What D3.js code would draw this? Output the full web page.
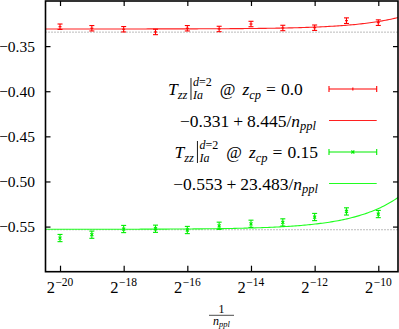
<!DOCTYPE html>
<html><head><meta charset="utf-8">
<script src="https://cdn.jsdelivr.net/npm/d3@7"></script>
<style>
html,body{margin:0;padding:0;background:#fff;}
svg{display:block;}
</style></head>
<body>
<svg id="c" width="399" height="329"></svg>
<script>
// ---- data ----
const xExp = [-20,-19,-18,-17,-16,-15,-14,-13,-12,-11,-10];          // 1/n_ppl = 2^xExp
const redVal = [-0.3285,-0.3302,-0.3313,-0.3343,-0.3302,-0.3310,-0.3255,-0.3299,-0.3296,-0.3218,-0.3240];
const redErr = [0.0030,0.0030,0.0030,0.0030,0.0030,0.0030,0.0030,0.0030,0.0030,0.0031,0.0031];
const greenVal = [-0.5627,-0.5590,-0.5527,-0.5524,-0.5538,-0.5491,-0.5469,-0.5454,-0.5394,-0.5332,-0.5361];
const greenErr = [0.0040,0.0040,0.0040,0.0040,0.0040,0.0040,0.0040,0.0040,0.0040,0.0040,0.0040];
const redFit = [-0.331, 8.445];      // a + b/n_ppl
const greenFit = [-0.553, 23.483];
const refLines = [-0.3345, -0.5535];
const xTickExp = [-20,-18,-16,-14,-12,-10];
const yTicks = [-0.35,-0.40,-0.45,-0.50,-0.55];
const yTickLabels = ["\u22120.35","\u22120.40","\u22120.45","\u22120.50","\u22120.55"];

const FONT = '"Liberation Serif"';
const svg = d3.select("#c");
const L = 45.5, R = 398, T = 1, B = 271.7;
const x = d3.scaleLog().base(2).domain([Math.pow(2,-20.456), Math.pow(2,-9.381)]).range([L,R]);
const y = d3.scaleLinear().domain([-0.60,-0.30]).range([B,T]);

// reference dotted lines
svg.append("g").selectAll("line").data(refLines).join("line")
  .attr("x1",L).attr("x2",R).attr("y1",d=>y(d)).attr("y2",d=>y(d))
  .attr("stroke","#777").attr("stroke-width",1).attr("stroke-dasharray","1,2");

// fit curves
const samples = d3.range(0,201).map(i=>Math.pow(2, -20.456 + (i/200)*(20.456-9.381)));
function fitLine(c, col){
  svg.append("path").datum(samples)
    .attr("d", d3.line().x(d=>x(d)).y(d=>y(c[0]+c[1]*d)))
    .attr("fill","none").attr("stroke",col).attr("stroke-width",1.1);
}
fitLine(redFit,"#ff2020");
fitLine(greenFit,"#20ff20");

// error bars
function errBars(vals, errs, col, kind){
  const g = svg.append("g").attr("stroke",col).attr("stroke-width",1.1).attr("fill","none");
  const data = xExp.map((e,i)=>({x:Math.pow(2,e), v:vals[i], e:errs[i]}));
  const cw = 2.5;
  data.forEach(d=>{
    const px = x(d.x), y0 = y(d.v-d.e), y1 = y(d.v+d.e), py = y(d.v);
    g.append("line").attr("x1",px).attr("x2",px).attr("y1",y0).attr("y2",y1);
    g.append("line").attr("x1",px-cw).attr("x2",px+cw).attr("y1",y0).attr("y2",y0);
    g.append("line").attr("x1",px-cw).attr("x2",px+cw).attr("y1",y1).attr("y2",y1);
    if(kind==="plus"){
      g.append("line").attr("x1",px-1.5).attr("x2",px+1.5).attr("y1",py).attr("y2",py);
    } else {
      g.append("line").attr("x1",px-1.5).attr("x2",px+1.5).attr("y1",py-1.5).attr("y2",py+1.5);
      g.append("line").attr("x1",px-1.5).attr("x2",px+1.5).attr("y1",py+1.5).attr("y2",py-1.5);
    }
  });
}
errBars(redVal, redErr, "#ff0000", "plus");
errBars(greenVal, greenErr, "#00ee00", "x");

// axes
const xb = svg.append("g").attr("transform",`translate(0,${B})`)
  .call(d3.axisBottom(x).tickValues(xTickExp.map(e=>Math.pow(2,e))).tickSizeInner(-6).tickSizeOuter(0).tickFormat(""));
const xt = svg.append("g").attr("transform",`translate(0,${T})`)
  .call(d3.axisTop(x).tickValues(xTickExp.map(e=>Math.pow(2,e))).tickSizeInner(-5).tickSizeOuter(0).tickFormat(""));
const yl = svg.append("g").attr("transform",`translate(${L},0)`)
  .call(d3.axisLeft(y).tickValues(yTicks).tickSizeInner(-5).tickSizeOuter(0).tickPadding(10.5)
    .tickFormat((d,i)=>yTickLabels[i]));
const yr = svg.append("g").attr("transform",`translate(${R},0)`)
  .call(d3.axisRight(y).tickValues(yTicks).tickSizeInner(-5).tickSizeOuter(0).tickFormat(""));
[xb,xt,yl,yr].forEach(g=>{
  g.attr("font-family",null);
  g.select(".domain").remove();
  g.selectAll(".tick line").attr("stroke","#000").attr("stroke-width",1.2);
});
yl.selectAll(".tick text").attr("font-size",15.5).attr("dy","0.33em")
  .style("font-family",FONT).attr("fill","#000");

// frame
svg.append("rect").attr("x",L).attr("y",T).attr("width",R-L).attr("height",B-T)
  .attr("fill","none").attr("stroke","#000").attr("stroke-width",1.6);

// math text helper
function mathText(pieces, px, py, anchor){
  const g = svg.append("g");
  let cur = 0;
  function put(p, at){
    const t = g.append("text").attr("x",at).attr("y",py+(p.dy||0))
      .style("font-family",FONT).attr("fill","#000")
      .attr("font-size",p.fs||17).attr("font-style",p.it?"italic":"normal").text(p.t);
    return t.node().getComputedTextLength();
  }
  pieces.forEach(p=>{
    if(p.sp){ cur += p.sp; return; }
    if(p.bar){
      g.append("line").attr("x1",cur+p.w/2).attr("x2",cur+p.w/2)
        .attr("y1",py+p.top).attr("y2",py+p.bot).attr("stroke","#000").attr("stroke-width",0.9);
      cur += p.w; return;
    }
    if(p.stack){
      let mw = 0;
      p.stack.forEach(seq=>{
        let c = cur;
        seq.forEach(q=>{ if(q.sp){c+=q.sp;} else {c += put(q,c);} });
        mw = Math.max(mw, c-cur);
      });
      cur += mw; return;
    }
    cur += put(p, cur);
  });
  let tx = px;
  if(anchor==="end") tx = px - cur;
  if(anchor==="middle") tx = px - cur/2;
  g.attr("transform",`translate(${tx},0)`);
  return g;
}

// x tick labels
xTickExp.forEach(e=>{
  mathText([{t:"2",fs:16.5},{sp:0.5},{t:"\u2212"+(-e),fs:11.5,dy:-7.5}], x(Math.pow(2,e)), 293, "middle");
});

// x axis label  1 / n_ppl
mathText([{t:"1",fs:12}], 221.5, 312.5, "middle");
svg.append("line").attr("x1",209).attr("x2",234).attr("y1",315.3).attr("y2",315.3)
  .attr("stroke","#000").attr("stroke-width",0.7);
mathText([{t:"n",fs:12,it:true},{t:"ppl",fs:8.5,it:true,dy:2.5}], 221.5, 324.5, "middle");

// legend
const rows = [89, 120.5, 152, 183.5];
const sx0 = 329, sx1 = 376.7;
function tzz(val){
  return [
    {t:"T",it:true,fs:17.5},{t:"zz",it:true,fs:12.5,dy:3.5},{sp:1.5},
    {bar:true,w:4,top:-17,bot:5},
    {stack:[
      [{t:"d",it:true,fs:12,dy:-9},{t:"=2",fs:12,dy:-9}],
      [{t:"Ia",it:true,fs:12,dy:4}]
    ]},
    {sp:8},{t:"@",fs:17},{sp:7},
    {t:"z",it:true,fs:17.5},{t:"cp",it:true,fs:12.5,dy:3.5},
    {sp:5},{t:"=",fs:17.5},{sp:5},{t:val,fs:17.5}
  ];
}
function fitTxt(a,b){
  return [{t:a,fs:17.5},{sp:4},{t:"+",fs:17.5},{sp:4},{t:b+"/",fs:17.5},
    {t:"n",it:true,fs:17.5},{t:"ppl",it:true,fs:12.5,dy:3.5}];
}
mathText(tzz("0.0"), 168, rows[0]+6, "start");
mathText(fitTxt("\u22120.331","8.445"), 316, rows[1]+6, "end");
mathText(tzz("0.15"), 318, rows[2]+6, "end");
mathText(fitTxt("\u22120.553","23.483"), 318, rows[3]+6, "end");

function legErr(yy, col, kind){
  const g = svg.append("g").attr("stroke",col).attr("stroke-width",1.1);
  g.append("line").attr("x1",sx0).attr("x2",sx1).attr("y1",yy).attr("y2",yy);
  g.append("line").attr("x1",sx0).attr("x2",sx0).attr("y1",yy-3).attr("y2",yy+3);
  g.append("line").attr("x1",sx1).attr("x2",sx1).attr("y1",yy-3).attr("y2",yy+3);
  const m = (sx0+sx1)/2;
  if(kind==="plus"){
    g.append("line").attr("x1",m).attr("x2",m).attr("y1",yy-1.5).attr("y2",yy+1.5);
  } else {
    g.append("line").attr("x1",m-1.5).attr("x2",m+1.5).attr("y1",yy-1.5).attr("y2",yy+1.5);
    g.append("line").attr("x1",m-1.5).attr("x2",m+1.5).attr("y1",yy+1.5).attr("y2",yy-1.5);
  }
}
legErr(rows[0],"#ff0000","plus");
svg.append("line").attr("x1",sx0).attr("x2",sx1).attr("y1",rows[1]).attr("y2",rows[1]).attr("stroke","#ff2020").attr("stroke-width",1.1);
legErr(rows[2],"#00ee00","x");
svg.append("line").attr("x1",sx0).attr("x2",sx1).attr("y1",rows[3]).attr("y2",rows[3]).attr("stroke","#20ff20").attr("stroke-width",1.1);
</script>
</body></html>
